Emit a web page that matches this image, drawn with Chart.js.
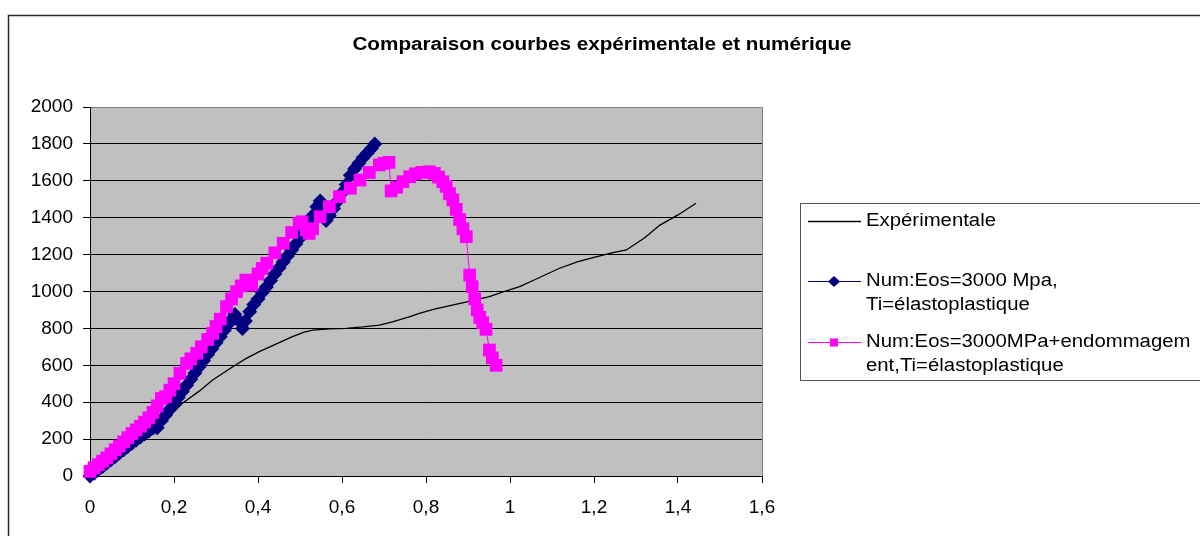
<!DOCTYPE html>
<html>
<head>
<meta charset="utf-8">
<script src="https://cdn.jsdelivr.net/npm/chart.js@4.4.1/dist/chart.umd.min.js"></script>
<style>
  html, body { margin: 0; padding: 0; background: #fff; }
  canvas { display: block; }
</style>
</head>
<body>
<canvas id="myChart" width="1200" height="536"></canvas>
<script>
const ctx = document.getElementById('myChart');

// axis ticks
const xTickLabels = ['0', '0,2', '0,4', '0,6', '0,8', '1', '1,2', '1,4', '1,6'];
const yTickLabels = ['0', '200', '400', '600', '800', '1000', '1200', '1400', '1600', '1800', '2000'];

const chartTitle = 'Comparaison courbes expérimentale et numérique';
const seriesLabels = [
    ['Expérimentale'],
    ['Num:Eos=3000 Mpa,', 'Ti=élastoplastique'],
    ['Num:Eos=3000MPa+endommagem', 'ent,Ti=élastoplastique']
];

// experimental curve
const expX = [0, 0.02, 0.04, 0.08, 0.12, 0.157, 0.19, 0.22, 0.26, 0.292, 0.34, 0.37, 0.403, 0.44, 0.482,
    0.51, 0.53, 0.57, 0.61, 0.65, 0.689, 0.72, 0.76, 0.784, 0.82, 0.86, 0.9, 0.951, 0.98, 1.023,
    1.06, 1.118, 1.16, 1.2, 1.24, 1.277, 1.32, 1.357, 1.4, 1.443];
const expY = [0, 32, 65, 130, 195, 258, 325, 394, 460, 520, 592, 635, 674, 712, 755,
    780, 791, 798, 800, 808, 818, 835, 863, 882, 905, 925, 945, 972, 995, 1026,
    1065, 1126, 1160, 1185, 1208, 1225, 1290, 1360, 1415, 1478];

// numerical, elastoplastic
const numX = [0, 0.01, 0.02, 0.03, 0.04, 0.05, 0.06, 0.07, 0.08, 0.09, 0.1, 0.11, 0.12, 0.13, 0.14,
    0.15, 0.16, 0.17, 0.18, 0.19, 0.2, 0.21, 0.22, 0.23, 0.24, 0.25, 0.26, 0.27, 0.28, 0.29,
    0.3, 0.31, 0.32, 0.33, 0.34, 0.345, 0.355, 0.363, 0.37, 0.38, 0.39, 0.4, 0.41, 0.42, 0.43,
    0.44, 0.45, 0.46, 0.47, 0.48, 0.49, 0.5, 0.51, 0.52, 0.53, 0.54, 0.548, 0.555, 0.562, 0.57,
    0.58, 0.59, 0.6, 0.61, 0.62, 0.63, 0.64, 0.65, 0.66, 0.67, 0.678];
const numY = [0, 15, 35, 52, 70, 88, 106, 124, 142, 160, 178, 195, 212, 228, 244,
    260, 262, 300, 330, 362, 392, 425, 458, 492, 525, 558, 592, 625, 658, 690,
    722, 755, 790, 825, 855, 875, 840, 800, 840, 890, 930, 960, 995, 1025, 1060,
    1095, 1128, 1160, 1192, 1225, 1258, 1290, 1325, 1360, 1410, 1460, 1490, 1420, 1385, 1410,
    1450, 1490, 1535, 1580, 1630, 1665, 1695, 1725, 1750, 1775, 1800];

// numerical, with damage
const endoX = [0, 0.01, 0.02, 0.03, 0.04, 0.05, 0.06, 0.07, 0.08, 0.09, 0.1, 0.11, 0.12, 0.13, 0.14,
    0.15, 0.16, 0.17, 0.18, 0.19, 0.2, 0.214, 0.23, 0.24, 0.254, 0.265, 0.28, 0.292, 0.3, 0.31,
    0.325, 0.337, 0.349, 0.36, 0.371, 0.385, 0.4, 0.41, 0.421, 0.44, 0.46, 0.48, 0.498, 0.505, 0.515,
    0.522, 0.53, 0.548, 0.57, 0.594, 0.62, 0.643, 0.665, 0.689, 0.7, 0.712, 0.717, 0.73, 0.745, 0.761,
    0.775, 0.79, 0.808, 0.82, 0.83, 0.84, 0.848, 0.856, 0.864, 0.872, 0.88, 0.888, 0.896, 0.904, 0.91,
    0.916, 0.922, 0.928, 0.935, 0.943, 0.951, 0.958, 0.967];
const endoY = [25, 45, 62, 80, 98, 120, 142, 162, 185, 208, 230, 250, 270, 292, 315,
    345, 380, 420, 430, 465, 500, 557, 610, 635, 665, 700, 740, 773, 810, 850,
    918, 960, 999, 1030, 1062, 1035, 1095, 1125, 1153, 1210, 1261, 1320, 1370, 1378, 1335,
    1315, 1340, 1405, 1460, 1514, 1560, 1604, 1645, 1686, 1695, 1700, 1545, 1565, 1595, 1622,
    1638, 1646, 1649, 1640, 1620, 1595, 1570, 1530, 1496, 1445, 1390, 1340, 1297, 1089, 1026,
    960, 900, 860, 830, 795, 683, 640, 600];

const toPoints = (xs, ys) => xs.map((x, i) => ({ x: x, y: ys[i] }));

const FONT = '"Liberation Sans", Arial, sans-serif';
const colors = ['#000000', '#000080', '#ff00ff'];

// text in the original chart is a little wider than the font
function stretchedText(c, text, x, y, sx, align) {
    const w = c.measureText(text).width * sx;
    let left = x;
    if (align === 'center') left = x - w / 2;
    c.save();
    c.translate(left, y);
    c.scale(sx, 1);
    c.textAlign = 'left';
    c.fillText(text, 0, 0);
    c.restore();
}

const decor = {
    id: 'decor',
    beforeDraw(chart) {
        const c = chart.ctx;
        const a = chart.chartArea;
        c.save();
        c.fillStyle = '#ffffff';
        c.fillRect(0, 0, chart.width, chart.height);
        c.fillStyle = '#c0c0c0';
        c.fillRect(a.left, a.top, a.right - a.left, a.bottom - a.top);
        c.restore();
    },
    afterDraw(chart) {
        const c = chart.ctx;
        const a = chart.chartArea;
        c.save();

        // plot area right edge
        c.strokeStyle = '#808080';
        c.lineWidth = 1;
        c.beginPath();
        c.moveTo(Math.round(a.right) + 0.5, a.top);
        c.lineTo(Math.round(a.right) + 0.5, a.bottom);
        c.stroke();

        // outer frame
        c.strokeStyle = '#2a2a2a';
        c.lineWidth = 1.5;
        c.strokeRect(8.5, 15.5, 1300, 700);

        // title
        c.fillStyle = '#000';
        c.font = 'bold 18px ' + FONT;
        c.textBaseline = 'middle';
        stretchedText(c, chartTitle, 602, 45, 1.15, 'center');

        // legend
        c.strokeStyle = '#555';
        c.lineWidth = 1;
        c.strokeRect(800.5, 203.5, 420, 177);
        const rows = [221, 281, 342];
        c.font = '18px ' + FONT;
        rows.forEach((y, i) => {
            c.strokeStyle = colors[i];
            c.lineWidth = i === 0 ? 1.3 : 1;
            c.beginPath();
            c.moveTo(808, y + 0.5);
            c.lineTo(861, y + 0.5);
            c.stroke();
            c.fillStyle = colors[i];
            if (i === 1) {
                c.beginPath();
                c.moveTo(834, y - 5);
                c.lineTo(840, y + 0.5);
                c.lineTo(834, y + 6);
                c.lineTo(828, y + 0.5);
                c.closePath();
                c.fill();
            } else if (i === 2) {
                c.fillRect(830, y - 3.5, 8, 8);
            }
            c.fillStyle = '#000';
            seriesLabels[i].forEach((line, k) => {
                stretchedText(c, line, 866, y + k * 24, 1.13, 'left');
            });
        });
        c.restore();
    }
};

new Chart(ctx, {
    type: 'scatter',
    data: {
        datasets: [
            {
                label: seriesLabels[0].join(' '),
                data: toPoints(expX, expY),
                showLine: true,
                borderColor: colors[0],
                borderWidth: 1.3,
                pointRadius: 0,
                order: 3,
                clip: false
            },
            {
                label: seriesLabels[1].join(' '),
                data: toPoints(numX, numY),
                showLine: true,
                borderColor: colors[1],
                backgroundColor: colors[1],
                borderWidth: 1,
                pointStyle: 'rectRot',
                pointRadius: 7.5,
                pointBorderWidth: 0,
                order: 2,
                clip: false
            },
            {
                label: seriesLabels[2].join(' '),
                data: toPoints(endoX, endoY),
                showLine: true,
                borderColor: colors[2],
                backgroundColor: colors[2],
                borderWidth: 1,
                pointStyle: 'rect',
                pointRadius: 9,
                pointBorderWidth: 0,
                order: 1,
                clip: false
            }
        ]
    },
    options: {
        responsive: false,
        animation: false,
        layout: {
            padding: { top: 107, right: 438, bottom: 0, left: 0 }
        },
        plugins: {
            legend: { display: false },
            title: { display: false },
            tooltip: { enabled: false }
        },
        scales: {
            x: {
                type: 'linear',
                min: 0,
                max: 1.6,
                afterFit: (scale) => { scale.height = 60; },
                ticks: {
                    stepSize: 0.2,
                    color: '#000',
                    padding: 13,
                    font: { family: FONT, size: 19 },
                    callback: (value, index) => xTickLabels[index]
                },
                grid: {
                    drawOnChartArea: false,
                    tickLength: 7,
                    tickColor: '#000'
                },
                border: { color: '#000', width: 1 }
            },
            y: {
                min: 0,
                max: 2000,
                afterFit: (scale) => { scale.width = 90; },
                ticks: {
                    stepSize: 200,
                    color: '#000',
                    padding: 10,
                    font: { family: FONT, size: 19 },
                    callback: (value, index) => yTickLabels[index]
                },
                grid: {
                    color: (c) => (c.tick && c.tick.value === 2000 ? '#808080' : '#000'),
                    lineWidth: 1,
                    tickLength: 7,
                    tickColor: '#000'
                },
                border: { color: '#000', width: 1 }
            }
        }
    },
    plugins: [decor]
});
</script>
</body>
</html>
